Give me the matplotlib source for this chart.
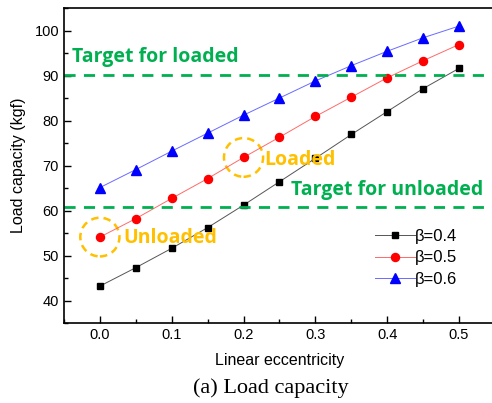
import matplotlib
matplotlib.use('Agg')
import matplotlib.pyplot as plt
from matplotlib.patches import Ellipse
from matplotlib.ticker import MultipleLocator, FormatStrFormatter

# eccentricity values and load capacity (kgf) for each beta
ecc = [0.0, 0.05, 0.1, 0.15, 0.2, 0.25, 0.3, 0.35, 0.4, 0.45, 0.5]
load_b04 = [43.2, 47.3, 51.6, 56.2, 61.2, 66.4, 71.6, 76.9, 82.0, 87.1, 91.6]
load_b05 = [54.1, 58.2, 62.7, 67.1, 71.8, 76.3, 80.9, 85.2, 89.5, 93.3, 96.9]
load_b06 = [65.1, 69.1, 73.2, 77.2, 81.2, 85.0, 88.8, 92.2, 95.4, 98.4, 101.0]
target_loaded = 90.15
target_unloaded = 60.7

green = '#00B050'
gold = '#FFC000'
annot_font = ['Open Sans', 'DejaVu Sans']

fig = plt.figure(figsize=(4.92, 4.03), dpi=100)
ax = fig.add_axes([0.130, 0.1985, 0.876, 0.7815])

ax.plot(ecc, load_b04, color='#555555', lw=0.7, marker='s', ms=5,
        mfc='black', mec='black', label='β=0.4')
ax.plot(ecc, load_b05, color='#ff6a6a', lw=0.7, marker='o', ms=5.8,
        mfc='red', mec='red', label='β=0.5')
ax.plot(ecc, load_b06, color='#6a6aff', lw=0.7, marker='^', ms=6.5,
        mfc='blue', mec='blue', label='β=0.6')

ax.axhline(target_loaded, color=green, ls=(0, (4, 3)), lw=2)
ax.axhline(target_unloaded, color=green, ls=(0, (4, 3)), lw=2)

ax.text(-0.039, 91.9, 'Target for loaded', color=green, fontsize=14,
        fontweight='bold', family=annot_font, va='bottom')
ax.text(0.266, 62.3, 'Target for unloaded', color=green, fontsize=14,
        fontweight='bold', family=annot_font, va='bottom')
ax.text(0.033, 53.8, 'Unloaded', color=gold, fontsize=14,
        fontweight='bold', family=annot_font, va='center')
ax.text(0.229, 71.2, 'Loaded', color=gold, fontsize=14,
        fontweight='bold', family=annot_font, va='center')

# dashed circles around the two operating points
for px, py in [(ecc[0], load_b05[0]), (ecc[4], load_b05[4])]:
    ax.add_patch(Ellipse((px, py), width=0.0545, height=8.6, fill=False,
                         ec=gold, lw=1.8, ls=(0, (3, 2))))

ax.set_xlim(-0.05, 0.55)
ax.set_ylim(35, 105)
ax.xaxis.set_major_locator(MultipleLocator(0.1))
ax.xaxis.set_minor_locator(MultipleLocator(0.05))
ax.yaxis.set_major_locator(MultipleLocator(10))
ax.yaxis.set_minor_locator(MultipleLocator(5))
ax.tick_params(which='both', direction='in', top=False, right=False,
               labelsize=10.5)
ax.tick_params(which='major', length=5, width=1)
ax.tick_params(which='minor', length=3, width=1)
ax.xaxis.set_major_formatter(FormatStrFormatter('%.1f'))
for lab in ax.get_xticklabels() + ax.get_yticklabels():
    lab.set_family('Liberation Sans')
for s in ax.spines.values():
    s.set_linewidth(1.2)

ax.set_xlabel('Linear eccentricity', fontsize=11.5, family='Liberation Sans',
              labelpad=8)
ax.set_ylabel('Load capacity (kgf)', fontsize=11.5, family='Liberation Sans',
              labelpad=6)

leg = ax.legend(loc='upper left', bbox_to_anchor=(0.722, 0.298), frameon=False,
                fontsize=12, handlelength=2.4, handletextpad=0.0,
                labelspacing=0.38, borderaxespad=0, borderpad=0)
for t in leg.get_texts():
    t.set_family('Liberation Sans')

fig.text(0.551, 0.037, '(a) Load capacity', ha='center', va='center',
         fontsize=16, family='Liberation Serif')

fig.savefig('out.png', dpi=100)
